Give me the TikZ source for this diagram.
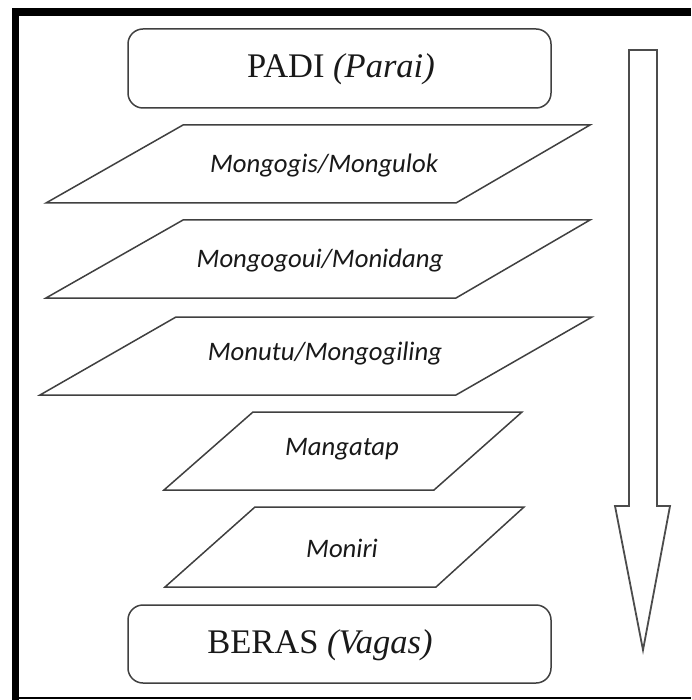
\documentclass[tikz,border=0pt]{standalone}
\usepackage{fontspec}
\setmainfont{Liberation Serif}
\newfontfamily\calfont{Carlito}
\begin{document}
\begin{tikzpicture}[x=1pt,y=-1pt,
  line join=miter,
  boxstyle/.style={draw=black!75,line width=1.5pt,rounded corners=15pt},
  parastyle/.style={draw=black!75,line width=1.5pt},
  serlabel/.style={font=\fontsize{34.5}{40}\selectfont,inner sep=0pt,text=black!90},
  callabel/.style={font=\calfont\itshape\fontsize{26.7}{30}\selectfont,inner sep=0pt,text=black!90},
  arrowstyle/.style={draw=black!70,line width=1.8pt,line join=miter}]
\useasboundingbox (0,0) rectangle (691,700);
\fill[white] (0,0) rectangle (691,700);
% frame
\fill[black] (12,8) rectangle (19,700);
\fill[black] (12,8) rectangle (691,16);
\fill[black] (12,696.8) rectangle (691,698.6);
% top box
\draw[boxstyle] (128,29) rectangle (551,108);
\node[serlabel] (padi) at (341,69) {PADI \textit{(Parai)}};
% parallelograms
\draw[parastyle] (183,125) -- (590,125) -- (456,203) -- (46,203) -- cycle;
\node[callabel] (p1) at (324,166) {Mongogis/Mongulok};
\draw[parastyle] (183,220) -- (590,220) -- (456,298) -- (46,298) -- cycle;
\node[callabel] (p2) at (320,261) {Mongogoui/Monidang};
\draw[parastyle] (176,317) -- (592,317) -- (456,395) -- (40,395) -- cycle;
\node[callabel] (p3) at (325,354) {Monutu/Mongogiling};
\draw[parastyle] (253,412) -- (522,412) -- (434,490) -- (164,490) -- cycle;
\node[callabel] (p4) at (342,449) {Mangatap};
\draw[parastyle] (255,507) -- (524,507) -- (436,587) -- (165,587) -- cycle;
\node[callabel] (p5) at (342,548) {Moniri};
% bottom box
\draw[boxstyle] (128,605) rectangle (551,683);
\node[serlabel] (beras) at (320,645) {BERAS \textit{(Vagas)}};
% big arrow
\draw[arrowstyle] (629,50) -- (657,50) -- (657,506) -- (670,506) -- (643,650) -- (615,506) -- (629,506) -- cycle;
\end{tikzpicture}
\end{document}
